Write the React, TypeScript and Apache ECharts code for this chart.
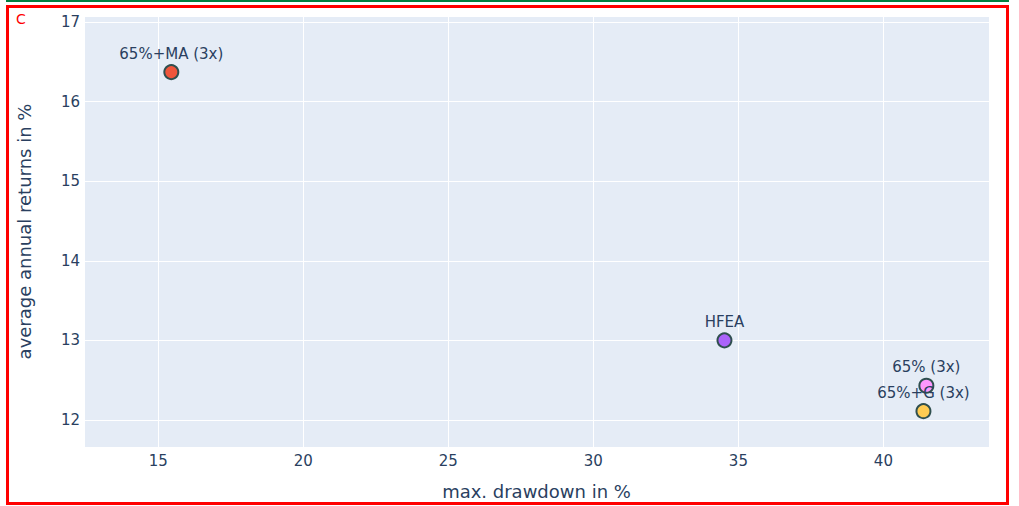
import React, { useEffect, useRef } from "react";
import * as echarts from "echarts";

const names = ["65%+MA (3x)", "HFEA", "65% (3x)", "65%+G (3x)"];
const drawdown = [15.45, 34.52, 41.48, 41.38];
const returns = [16.37, 13.0, 12.43, 12.11];
const colors = ["#EF553B", "#AB63FA", "#FF97FF", "#FECB52"];

const TEXT = "#2a3f5f";
const FONT = "'DejaVu Sans', Verdana, sans-serif";

export default function App() {
  const ref = useRef<HTMLDivElement>(null);
  useEffect(() => {
    if (!ref.current) return;
    const chart = echarts.init(ref.current, undefined, { renderer: "svg" });
    chart.setOption({
      animation: false,
      backgroundColor: "#ffffff",
      textStyle: { fontFamily: FONT, color: TEXT },
      grid: { left: 84, top: 16, width: 905, height: 431, show: true, backgroundColor: "#E5ECF6", borderWidth: 0 },
      xAxis: {
        type: "value",
        min: 12.44,
        max: 43.64,
        name: "max. drawdown in %",
        nameLocation: "middle",
        nameGap: 35,
        nameTextStyle: { fontSize: 18, color: TEXT, fontFamily: FONT },
        axisLine: { show: false },
        axisTick: { show: false },
        axisLabel: { fontSize: 15, color: TEXT, fontFamily: FONT, margin: 6, showMinLabel: false, showMaxLabel: false },
        splitLine: { show: true, lineStyle: { color: "#ffffff", width: 1 } },
      },
      yAxis: {
        type: "value",
        min: 11.66,
        max: 17.075,
        name: "average annual returns in %",
        nameLocation: "middle",
        nameGap: 51,
        nameTextStyle: { fontSize: 18, color: TEXT, fontFamily: FONT },
        axisLine: { show: false },
        axisTick: { show: false },
        axisLabel: { fontSize: 15, color: TEXT, fontFamily: FONT, margin: 4, showMinLabel: false, showMaxLabel: false },
        splitLine: { show: true, lineStyle: { color: "#ffffff", width: 1 } },
      },
      series: [
        {
          type: "scatter",
          symbol: "circle",
          symbolSize: 14,
          data: names.map((n, i) => ({
            name: n,
            value: [drawdown[i], returns[i]],
            itemStyle: { color: colors[i], borderColor: "#2F4F4F", borderWidth: 2, opacity: 1 },
          })),
          label: {
            show: true,
            position: "top",
            distance: 3,
            formatter: (p: any) => p.name,
            fontSize: 15,
            color: TEXT,
            fontFamily: FONT,
          },
          emphasis: { disabled: true },
        },
      ],
      graphic: [
        { type: "line", shape: { x1: 6, y1: 1, x2: 1009, y2: 1 }, style: { stroke: "#008040", lineWidth: 2 }, z: 100 },
        { type: "rect", shape: { x: 7.5, y: 6.5, width: 1000, height: 497 }, style: { fill: "none", stroke: "#ff0000", lineWidth: 3 }, z: 100 },
        { type: "text", x: 16, y: 12, style: { text: "C", fill: "#ff0000", fontSize: 14, fontFamily: FONT }, z: 100 },
      ],
    });
    return () => chart.dispose();
  }, []);
  return <div ref={ref} style={{ position: "fixed", left: 0, top: 0, width: 1019, height: 506 }} />;
}
